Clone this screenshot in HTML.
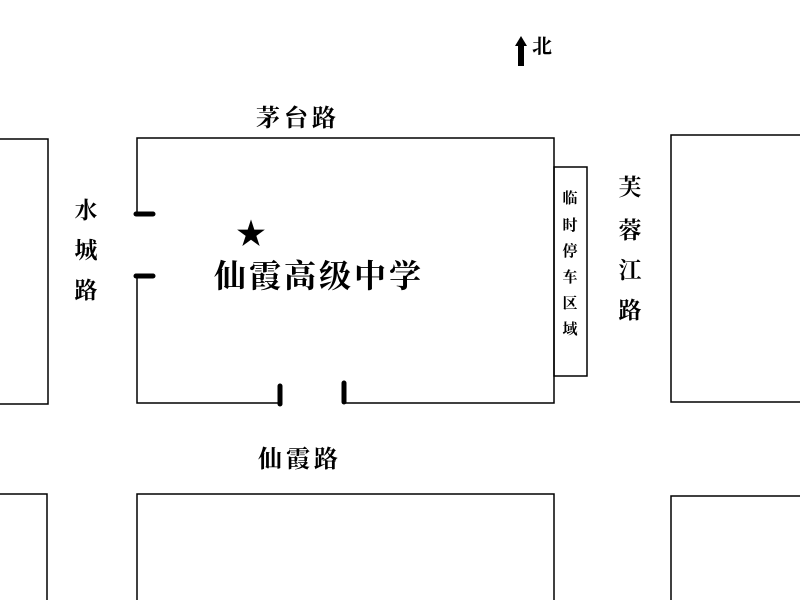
<!DOCTYPE html>
<html><head><meta charset="utf-8"><style>body{margin:0;background:#fff}svg{display:block}</style></head><body>
<svg width="800" height="600" xmlns="http://www.w3.org/2000/svg" font-family="'Liberation Serif','Noto Serif CJK SC',serif">
<g fill="none" stroke="#000" stroke-width="1.5">
<polyline points="137,214 137,138 554,138 554,403 343,403"/>
<polyline points="137,275 137,403 280,403"/>
<rect x="554" y="167" width="33" height="209"/>
<polyline points="0,139 48,139 48,404 0,404"/>
<polyline points="800,135 671,135 671,402 800,402"/>
<polyline points="0,494 47,494 47,600"/>
<polyline points="137,600 137,494 554,494 554,600"/>
<polyline points="800,496 671,496 671,600"/>
</g>
<g stroke="#000" stroke-width="5" stroke-linecap="round">
<line x1="136" y1="214" x2="153" y2="214"/>
<line x1="136" y1="276" x2="153" y2="276"/>
<line x1="280" y1="386" x2="280" y2="404"/>
<line x1="344" y1="383" x2="344" y2="402"/>
</g>
<polygon points="521,36 527,46 524,46 524,66 518,66 518,46 515,46" fill="#000"/>
<text x="532" y="53" font-size="20" font-weight="bold">北</text>
<text x="256" y="126" font-size="24" font-weight="bold" letter-spacing="4">茅台路</text>
<text x="258" y="467" font-size="24" font-weight="bold" letter-spacing="4">仙霞路</text>
<g font-size="23" font-weight="bold" text-anchor="middle"><text x="86" y="218">水</text><text x="86" y="258">城</text><text x="86" y="298">路</text></g>
<g font-size="23" font-weight="bold" text-anchor="middle"><text x="630" y="195">芙</text><text x="630" y="238">蓉</text><text x="630" y="278">江</text><text x="630" y="318">路</text></g>
<g font-size="15" font-weight="bold" text-anchor="middle"><text x="570" y="203">临</text><text x="570" y="230">时</text><text x="570" y="256">停</text><text x="570" y="282">车</text><text x="570" y="308">区</text><text x="570" y="334">域</text></g>
<text x="251" y="244" font-size="30" text-anchor="middle">★</text>
<text x="214" y="287" font-size="32" font-weight="bold" letter-spacing="3">仙霞高级中学</text>
</svg>
</body></html>
